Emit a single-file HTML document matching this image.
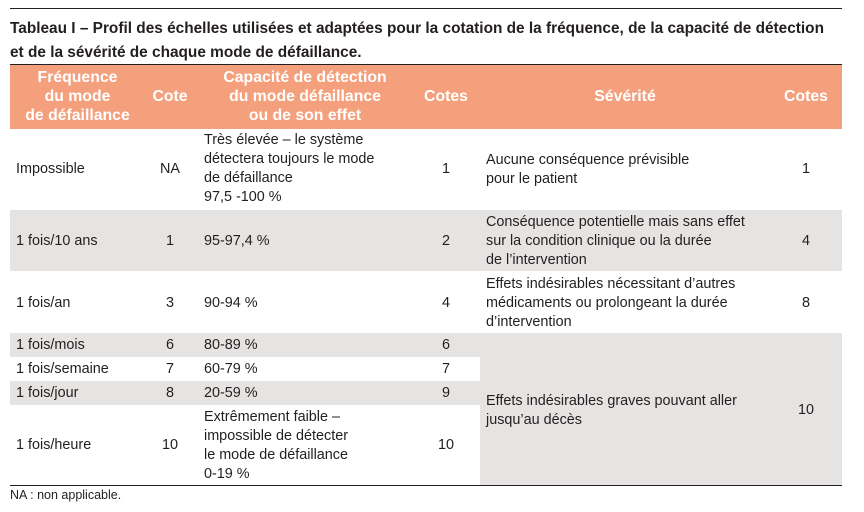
<!DOCTYPE html>
<html><head><meta charset="utf-8"><style>
body{margin:0;width:864px;height:512px;background:#fff;font-family:"Liberation Sans",sans-serif;color:#231f20;position:relative;overflow:hidden}
div{position:absolute}
.r{left:10px;width:832px}
.t{font-size:14.4px;line-height:19px;white-space:nowrap}
.c{text-align:center}
.h{color:#fff;font-weight:bold;font-size:15.8px;line-height:19px;text-align:center;white-space:nowrap}
</style></head><body>
<div class="r" style="top:8px;height:1px;background:#231f20"></div>
<div style="left:10px;top:17px;font-weight:bold;font-size:15.4px;line-height:24px;white-space:nowrap">Tableau I – Profil des échelles utilisées et adaptées pour la cotation de la fréquence, de la capacité de détection<br>et de la sévérité de chaque mode de défaillance.</div>
<div class="r" style="top:64px;height:1px;background:#231f20"></div>
<div class="r" style="top:65px;height:64px;background:#f5a07d"></div>
<div class="h" style="left:10px;width:135px;top:68px">Fréquence<br>du mode<br>de défaillance</div>
<div class="h" style="left:145px;width:50px;top:87px">Cote</div>
<div class="h" style="left:200px;width:210px;top:68px">Capacité de détection<br>du mode défaillance<br>ou de son effet</div>
<div class="h" style="left:416px;width:60px;top:87px">Cotes</div>
<div class="h" style="left:480px;width:290px;top:87px">Sévérité</div>
<div class="h" style="left:776px;width:60px;top:87px">Cotes</div>

<div class="r" style="top:210px;height:61px;background:#e6e4e3"></div>
<div class="r" style="top:333px;height:24px;background:#e6e4e3;width:470px"></div>
<div class="r" style="top:381px;height:24px;background:#e6e4e3;width:470px"></div>
<div style="left:480px;top:333px;width:362px;height:152px;background:#e6e4e3"></div>
<div class="r" style="top:485px;height:1px;background:#231f20"></div>

<div class="t" style="left:16px;top:160px">Impossible</div>
<div class="t c" style="left:145px;width:50px;top:160px">NA</div>
<div class="t" style="left:204px;top:131px">Très élevée – le système<br>détectera toujours le mode<br>de défaillance<br>97,5 -100 %</div>
<div class="t c" style="left:416px;width:60px;top:160px">1</div>
<div class="t" style="left:486px;top:151px">Aucune conséquence prévisible<br>pour le patient</div>
<div class="t c" style="left:776px;width:60px;top:160px">1</div>

<div class="t" style="left:16px;top:232px">1 fois/10 ans</div>
<div class="t c" style="left:145px;width:50px;top:232px">1</div>
<div class="t" style="left:204px;top:232px">95-97,4 %</div>
<div class="t c" style="left:416px;width:60px;top:232px">2</div>
<div class="t" style="left:486px;top:213px">Conséquence potentielle mais sans effet<br>sur la condition clinique ou la durée<br>de l’intervention</div>
<div class="t c" style="left:776px;width:60px;top:232px">4</div>

<div class="t" style="left:16px;top:294px">1 fois/an</div>
<div class="t c" style="left:145px;width:50px;top:294px">3</div>
<div class="t" style="left:204px;top:294px">90-94 %</div>
<div class="t c" style="left:416px;width:60px;top:294px">4</div>
<div class="t" style="left:486px;top:275px">Effets indésirables nécessitant d’autres<br>médicaments ou prolongeant la durée<br>d’intervention</div>
<div class="t c" style="left:776px;width:60px;top:294px">8</div>

<div class="t" style="left:16px;top:336px">1 fois/mois</div>
<div class="t c" style="left:145px;width:50px;top:336px">6</div>
<div class="t" style="left:204px;top:336px">80-89 %</div>
<div class="t c" style="left:416px;width:60px;top:336px">6</div>

<div class="t" style="left:16px;top:360px">1 fois/semaine</div>
<div class="t c" style="left:145px;width:50px;top:360px">7</div>
<div class="t" style="left:204px;top:360px">60-79 %</div>
<div class="t c" style="left:416px;width:60px;top:360px">7</div>

<div class="t" style="left:16px;top:384px">1 fois/jour</div>
<div class="t c" style="left:145px;width:50px;top:384px">8</div>
<div class="t" style="left:204px;top:384px">20-59 %</div>
<div class="t c" style="left:416px;width:60px;top:384px">9</div>

<div class="t" style="left:16px;top:436px">1 fois/heure</div>
<div class="t c" style="left:145px;width:50px;top:436px">10</div>
<div class="t" style="left:204px;top:408px">Extrêmement faible –<br>impossible de détecter<br>le mode de défaillance<br>0-19 %</div>
<div class="t c" style="left:416px;width:60px;top:436px">10</div>
<div class="t" style="left:486px;top:392px">Effets indésirables graves pouvant aller<br>jusqu’au décès</div>
<div class="t c" style="left:776px;width:60px;top:401px">10</div>

<div style="left:10px;top:487px;font-size:12.5px;line-height:16px;white-space:nowrap">NA : non applicable.</div>
</body></html>
